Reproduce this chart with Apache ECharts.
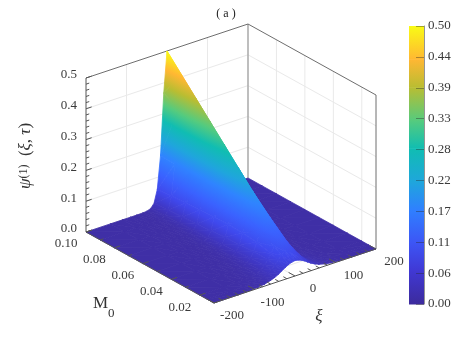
<!DOCTYPE html>
<html>
<head>
<meta charset="utf-8">
<style>html,body{margin:0;padding:0;background:#fff}#chart{width:463px;height:342px}</style>
<script src="https://cdn.jsdelivr.net/npm/echarts@6/dist/echarts.min.js"></script>
</head>
<body>
<div id="chart"></div>
<script>
// surface samples
let xiGrid = [-200,-140,-110,-90,-75,-60,-50,-40,-32,-24,-16,-8,0,8,16,24,32,40,50,60,75,90,110,140,200];
let m0Grid = [0.10,0.09,0.08,0.07,0.06,0.05,0.04,0.03,0.02,0.015,0.01];
let psi = [
    [0,0,0,0,0.0001,0.0004,0.0016,0.0065,0.020,0.061,0.167,0.367,0.500,0.367,0.167,0.061,0.020,0.0065,0.0016,0.0004,0.0001,0,0,0,0],
    [0,0,0,0,0.0001,0.0005,0.0020,0.0079,0.023,0.065,0.166,0.341,0.450,0.341,0.166,0.065,0.023,0.0079,0.0020,0.0005,0.0001,0,0,0,0],
    [0,0,0,0,0.0001,0.0007,0.0027,0.0095,0.026,0.068,0.162,0.311,0.400,0.311,0.162,0.068,0.026,0.0095,0.0027,0.0007,0.0001,0,0,0,0],
    [0,0,0,0,0.0002,0.0011,0.0035,0.0116,0.029,0.071,0.159,0.280,0.350,0.280,0.159,0.071,0.029,0.0116,0.0035,0.0011,0.0002,0,0,0,0],
    [0,0,0,0.0001,0.0003,0.0016,0.0047,0.0140,0.033,0.074,0.149,0.249,0.300,0.249,0.149,0.074,0.033,0.0140,0.0047,0.0016,0.0003,0.0001,0,0,0],
    [0,0,0,0.0001,0.0005,0.0023,0.0063,0.0170,0.037,0.075,0.138,0.213,0.250,0.213,0.138,0.075,0.037,0.0170,0.0063,0.0023,0.0005,0.0001,0,0,0],
    [0,0,0,0.0002,0.0009,0.0035,0.0084,0.0200,0.039,0.073,0.123,0.176,0.200,0.176,0.123,0.073,0.039,0.0200,0.0084,0.0035,0.0009,0.0002,0,0,0],
    [0,0,0.0001,0.0005,0.0017,0.0055,0.0117,0.0240,0.042,0.069,0.104,0.136,0.150,0.136,0.104,0.069,0.042,0.0240,0.0117,0.0055,0.0017,0.0005,0.0001,0,0],
    [0,0.0001,0.0004,0.0013,0.0033,0.0083,0.0150,0.0270,0.041,0.058,0.078,0.094,0.100,0.094,0.078,0.058,0.041,0.0270,0.0150,0.0083,0.0033,0.0013,0.0004,0.0001,0],
    [0,0.0001,0.0007,0.0020,0.0045,0.0100,0.0170,0.0270,0.037,0.050,0.062,0.071,0.075,0.071,0.062,0.050,0.037,0.0270,0.0170,0.0100,0.0045,0.0020,0.0007,0.0001,0],
    [0,0.0004,0.0014,0.0034,0.0064,0.0120,0.0170,0.0240,0.031,0.038,0.044,0.048,0.050,0.048,0.044,0.038,0.031,0.0240,0.0170,0.0120,0.0064,0.0034,0.0014,0.0004,0]
];

let xiTicks = [-200,-100,0,100,200];
let xiMinor = [-180,-160,-140,-120,-80,-60,-40,-20,20,40,60,80,120,140,160,180];
let m0Ticks = [0.10,0.08,0.06,0.04,0.02];
let m0Minor = [0.09,0.07,0.05,0.03,0.01];
let psiTicks = [0,0.1,0.2,0.3,0.4,0.5];
let psiMinor = [0.02,0.04,0.06,0.08,0.12,0.14,0.16,0.18,0.22,0.24,0.26,0.28,0.32,0.34,0.36,0.38,0.42,0.44,0.46,0.48];
let barTickStep = 0.5 / 9;

// colour bar as seen in the picture: [value, colour]
let colorStops = [
    [0.00,'#3c2b9c'],[0.06,'#4038d4'],[0.11,'#3d55f5'],[0.17,'#2f80ff'],[0.22,'#1fa6dc'],
    [0.28,'#10bdb2'],[0.33,'#55cb7e'],[0.39,'#b9bd32'],[0.44,'#ffb733'],[0.50,'#f9fb15']
];
// the lit surface comes out a little brighter than the bar at the low end
let surfaceStops = [
    [0.00,'#3f2fa6'],[0.02,'#3f36c2'],[0.06,'#3f48ec'],[0.11,'#3a62ff'],[0.17,'#2f84ff'],[0.22,'#1fa6dc'],
    [0.28,'#10bdb2'],[0.33,'#55cb7e'],[0.39,'#b9bd32'],[0.44,'#ffb733'],[0.50,'#f9fb15']
];
let barValues = [];
for (let i = 0; i < colorStops.length - 1; i++) barValues.push([colorStops[i], colorStops[i + 1]]);

const SERIF = '"Liberation Serif", serif';
const TEXT_COLOR = '#3a3a3a';

// orthographic view: front corner of the floor plus one vector per data axis
function project(xi, m0, z) {
    let u = (xi + 200) / 400, v = (m0 - 0.01) / 0.09, w = z / 0.5;
    return [214 + 162 * u - 128 * v, 303 - 54 * u - 71 * v - 154 * w];
}

function colorAt(z) {
    for (let i = 0; i < surfaceStops.length - 1; i++) {
        let a = surfaceStops[i], b = surfaceStops[i + 1];
        if (z <= b[0]) {
            let t = Math.max(0, (z - a[0]) / (b[0] - a[0]));
            return echarts.color.lerp(t, [a[1], b[1]]);
        }
    }
    return surfaceStops[surfaceStops.length - 1][1];
}

// linear gradient over a triangle, exact for z varying linearly on it
function triangleFill(pts, zs) {
    let lo = zs[0] <= zs[1] ? (zs[0] <= zs[2] ? 0 : 2) : (zs[1] <= zs[2] ? 1 : 2);
    let zMin = Math.min(zs[0], zs[1], zs[2]), zMax = Math.max(zs[0], zs[1], zs[2]);
    if (zMax - zMin < 0.0005) return colorAt((zMin + zMax) / 2);
    let e1 = [pts[1][0] - pts[0][0], pts[1][1] - pts[0][1]];
    let e2 = [pts[2][0] - pts[0][0], pts[2][1] - pts[0][1]];
    let d1 = zs[1] - zs[0], d2 = zs[2] - zs[0];
    let det = e1[0] * e2[1] - e1[1] * e2[0];
    if (Math.abs(det) < 1e-6) return colorAt((zMin + zMax) / 2);
    let gx = (d1 * e2[1] - d2 * e1[1]) / det, gy = (d2 * e1[0] - d1 * e2[0]) / det;
    let g2 = gx * gx + gy * gy, span = zMax - zMin;
    let sx = pts[lo][0], sy = pts[lo][1];
    let stops = [{offset: 0, color: colorAt(zMin)}];
    surfaceStops.forEach(s => {
        if (s[0] > zMin && s[0] < zMax) stops.push({offset: (s[0] - zMin) / span, color: s[1]});
    });
    stops.push({offset: 1, color: colorAt(zMax)});
    return new echarts.graphic.LinearGradient(sx, sy, sx + gx * span / g2, sy + gy * span / g2, stops, true);
}

// triangles far to near so the ridge hides what is behind it
let triangles = [];
for (let r = 0; r < m0Grid.length - 1; r++) {
    for (let c = xiGrid.length - 2; c >= 0; c--) {
        triangles.push([[r, c + 1], [r + 1, c + 1], [r, c]]);
        triangles.push([[r + 1, c + 1], [r + 1, c], [r, c]]);
    }
}

function renderTriangle(params, api) {
    let tri = triangles[params.dataIndex];
    let pts = tri.map(n => api.coord(project(xiGrid[n[1]], m0Grid[n[0]], psi[n[0]][n[1]])));
    let zs = tri.map(n => psi[n[0]][n[1]]);
    let fill = triangleFill(pts, zs);
    return {
        type: 'polygon',
        shape: {points: pts},
        style: {fill: fill, stroke: fill, lineWidth: 0.8}
    };
}

// wall + floor lines: [xi0, m00, z0, xi1, m01, z1]
let gridLines = [], boxLines = [], tickLines = [];
xiTicks.slice(1, 4).forEach(x => {
    gridLines.push([x, 0.10, 0, x, 0.10, 0.5]);
    gridLines.push([x, 0.01, 0, x, 0.10, 0]);
});
m0Ticks.slice(1).forEach(m => {
    gridLines.push([200, m, 0, 200, m, 0.5]);
    gridLines.push([-200, m, 0, 200, m, 0]);
});
gridLines.push([-200, 0.10, 0, 200, 0.10, 0]);
psiTicks.slice(1, 5).forEach(z => {
    gridLines.push([-200, 0.10, z, 200, 0.10, z]);
    gridLines.push([200, 0.10, z, 200, 0.01, z]);
});
boxLines.push([-200, 0.10, 0.5, 200, 0.10, 0.5]);
boxLines.push([200, 0.10, 0.5, 200, 0.01, 0.5]);
boxLines.push([200, 0.01, 0, 200, 0.01, 0.5]);
let backEdge = [[200, 0.10, 0, 200, 0.10, 0.5]];

let axisLines = [
    [-200, 0.10, 0, -200, 0.10, 0.5],
    [-200, 0.10, 0, -200, 0.01, 0],
    [-200, 0.01, 0, 200, 0.01, 0]
];
psiTicks.forEach(z => tickLines.push([-200, 0.10, z, -186, 0.10, z]));
psiMinor.forEach(z => tickLines.push([-200, 0.10, z, -192, 0.10, z]));
xiTicks.forEach(x => tickLines.push([x, 0.01, 0, x, 0.0145, 0]));
xiMinor.forEach(x => tickLines.push([x, 0.01, 0, x, 0.0125, 0]));
m0Ticks.forEach(m => tickLines.push([-200, m, 0, -186, m, 0]));
m0Minor.forEach(m => tickLines.push([-200, m, 0, -192, m, 0]));

function lineSeries(data, color, width, z) {
    return {
        type: 'custom',
        xAxisIndex: 0, yAxisIndex: 0,
        silent: true,
        z: z,
        data: data,
        renderItem: function (params, api) {
            let d = data[params.dataIndex];
            let a = api.coord(project(d[0], d[1], d[2])), b = api.coord(project(d[3], d[4], d[5]));
            return {
                type: 'line',
                shape: {x1: a[0], y1: a[1], x2: b[0], y2: b[1]},
                style: {stroke: color, lineWidth: width, fill: null}
            };
        }
    };
}

// tick labels anchored to the 3D tick plus a small pixel offset
let tickLabels = [];
psiTicks.forEach(z => tickLabels.push([-200, 0.10, z, z.toFixed(1), -9, -3, 'right']));
m0Ticks.forEach(m => tickLabels.push([-200, m, 0, m.toFixed(2), -20, 12, 'center']));
xiTicks.forEach(x => tickLabels.push([x, 0.01, 0, String(x), 18, 13, 'center']));

let option = {
    animation: false,
    backgroundColor: '#fff',
    grid: [
        {left: 0, right: 0, top: 0, bottom: 0},
        {left: 409, top: 26, width: 15, height: 278}
    ],
    xAxis: [
        {type: 'value', min: 0, max: 463, show: false, gridIndex: 0},
        {type: 'value', min: 0, max: 1, show: false, gridIndex: 1}
    ],
    yAxis: [
        {type: 'value', min: 0, max: 342, inverse: true, show: false, gridIndex: 0},
        {
            type: 'value', min: 0, max: 0.5, interval: barTickStep, position: 'right', gridIndex: 1, z: 5,
            axisLine: {show: true, onZero: false, lineStyle: {color: 'rgba(60,60,60,0.55)', width: 1}},
            axisTick: {show: true, inside: true, length: 8, lineStyle: {color: 'rgba(40,40,40,0.4)'}},
            axisLabel: {
                formatter: v => v.toFixed(2),
                margin: 4, fontFamily: SERIF, fontSize: 13, color: TEXT_COLOR
            },
            splitLine: {show: false}
        }
    ],
    graphic: [
        {type: 'text', x: 226, y: 14, silent: true, style: {text: '( a )', font: '12px ' + SERIF, fill: '#222', align: 'center', verticalAlign: 'middle'}},
        {
            type: 'text', x: 26, y: 156, rotation: Math.PI / 2, silent: true,
            style: {
                text: '{i|\u03c8}{s|(1)}{r|  (}{i|\u03be},{i| \u03c4}{r|)}',
                font: '17px ' + SERIF, fill: '#333', align: 'center', verticalAlign: 'middle',
                rich: {
                    i: {font: 'italic 17px ' + SERIF, fill: '#333'},
                    r: {font: '17px ' + SERIF, fill: '#333'},
                    s: {font: '12px ' + SERIF, fill: '#333', verticalAlign: 'top'}
                }
            }
        },
        {type: 'text', x: 93, y: 304, silent: true, style: {text: 'M', font: '17px ' + SERIF, fill: '#333', align: 'left', verticalAlign: 'middle'}},
        {type: 'text', x: 108, y: 314, silent: true, style: {text: '0', font: '13px ' + SERIF, fill: '#333', align: 'left', verticalAlign: 'middle'}},
        {type: 'text', x: 319, y: 317, silent: true, style: {text: '\u03be', font: 'italic 17px ' + SERIF, fill: '#333', align: 'center', verticalAlign: 'middle'}}
    ],
    series: [
        lineSeries(gridLines, '#e9e9e9', 1, 1),
        lineSeries(backEdge, '#a8a8a8', 1.5, 1),
        lineSeries(boxLines, '#6e6e6e', 1, 1),
        {
            type: 'custom', xAxisIndex: 0, yAxisIndex: 0, silent: true, z: 2,
            data: triangles.map((t, i) => [i]),
            renderItem: renderTriangle
        },
        lineSeries(axisLines, '#555', 1, 3),
        lineSeries(tickLines, '#555', 1, 3),
        {
            type: 'custom', xAxisIndex: 0, yAxisIndex: 0, silent: true, z: 3,
            data: tickLabels,
            renderItem: function (params, api) {
                let d = tickLabels[params.dataIndex];
                let p = api.coord(project(d[0], d[1], d[2]));
                return {
                    type: 'text',
                    x: p[0] + d[4], y: p[1] + d[5],
                    style: {text: d[3], font: '13px ' + SERIF, fill: TEXT_COLOR, align: d[6], verticalAlign: 'middle'}
                };
            }
        },
        {
            // colour bar drawn on its own value axis
            type: 'custom', xAxisIndex: 1, yAxisIndex: 1, silent: true, z: 2,
            data: barValues,
            renderItem: function (params, api) {
                let d = barValues[params.dataIndex];
                let a = api.coord([0, d[0][0]]), b = api.coord([1, d[1][0]]);
                return {
                    type: 'rect',
                    shape: {x: a[0], y: b[1], width: b[0] - a[0], height: a[1] - b[1] + 0.5},
                    style: {fill: new echarts.graphic.LinearGradient(0, 0, 0, 1, [
                        {offset: 0, color: d[1][1]}, {offset: 1, color: d[0][1]}
                    ])}
                };
            }
        }
    ]
};

let chart = echarts.init(document.getElementById('chart'), null, {renderer: 'canvas'});
chart.setOption(option);
</script>
</body>
</html>
